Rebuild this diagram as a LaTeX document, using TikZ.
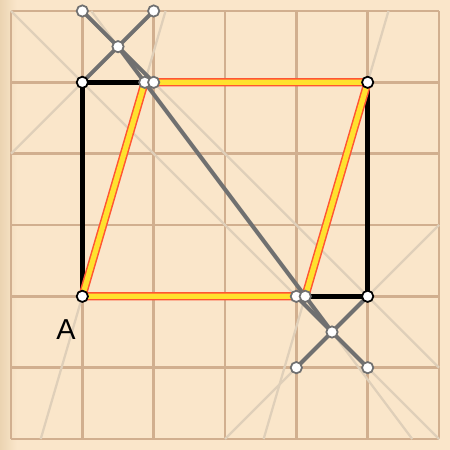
\documentclass[tikz,border=0pt]{standalone}
\usepackage{fontspec}
\setmainfont{Liberation Sans}
\definecolor{bgc}{HTML}{FAE6CA}
\definecolor{leftc}{HTML}{EBD4B2}
\definecolor{gridc}{HTML}{D1AF8F}
\definecolor{faintc}{HTML}{DFCFB9}
\definecolor{grayc}{HTML}{707070}
\definecolor{redc}{HTML}{FF5533}
\definecolor{yellowc}{HTML}{FFE12E}
\begin{document}
\begin{tikzpicture}[x=1cm,y=1cm,
  gridline/.style={draw=gridc, line width=1.05pt},
  faint/.style={draw=faintc, line width=0.9pt},
  blackline/.style={draw=black, line width=1.9pt, line join=miter},
  grayline/.style={draw=grayc, line width=1.6pt, line cap=round},
  band/.style={draw=redc, line width=0.6pt, double=yellowc, double distance=2.1pt, line join=round},
  pt/.style={circle, draw=grayc, fill=white, line width=0.7pt, inner sep=0pt, minimum size=4.5pt},
  bpt/.style={pt, draw=black},
  lab/.style={font=\fontsize{11.5}{13}\selectfont, text=black, inner sep=0pt}]
\useasboundingbox (-0.1542,-0.1542) rectangle (6.1542,6.1542);
\fill[bgc] (-0.1542,-0.1542) rectangle (6.1542,6.1542);
\shade[left color=leftc, right color=bgc] (-0.1542,-0.1542) rectangle (0.08,6.1542);
\draw[gridline] (0,0) grid (6,6);
% coordinates
\coordinate (A) at (1,2);
\coordinate (TL) at (1,5);
\coordinate (P1) at (1.875,5);
\coordinate (P2) at (2,5);
\coordinate (TR) at (5,5);
\coordinate (BR) at (5,2);
\coordinate (Q1) at (4,2);
\coordinate (Q2) at (4.125,2);
\coordinate (C1) at (1.5,5.5);
\coordinate (C2) at (4.5,1.5);
\coordinate (U1) at (1,6);
\coordinate (U2) at (2,6);
\coordinate (D1) at (4,1);
\coordinate (D2) at (5,1);
% faint construction line ends
\coordinate (f1a) at (0,6); \coordinate (f1b) at (6,0);
\coordinate (f2a) at (1,6); \coordinate (f2b) at (6,1);
\coordinate (f3a) at (0,4); \coordinate (f3b) at (2,6);
\coordinate (f4a) at (3,0); \coordinate (f4b) at (6,3);
\coordinate (f5a) at (1.125,6); \coordinate (f5b) at (5.625,0);
\coordinate (f6a) at (0.41667,0); \coordinate (f6b) at (2.16667,6);
\coordinate (f7a) at (3.54167,0); \coordinate (f7b) at (5.29167,6);
\draw[faint] (f1a) -- (f1b);
\draw[faint] (f2a) -- (f2b);
\draw[faint] (f3a) -- (f3b);
\draw[faint] (f4a) -- (f4b);
\draw[faint] (f5a) -- (f5b);
\draw[faint] (f6a) -- (f6b);
\draw[faint] (f7a) -- (f7b);
% black rectangle parts
\draw[blackline] (P1) -- (TL) -- (A);
\draw[blackline] (TR) -- (BR) -- (Q2);
% yellow parallelogram
\draw[band] (A) -- (P1) -- (P2) -- (TR) -- (Q2) -- (Q1) -- cycle;
% gray lines
\draw[grayline] (U1) -- (P2);
\draw[grayline] (TL) -- (U2);
\draw[grayline] (C1) -- (C2);
\draw[grayline] (Q1) -- (D2);
\draw[grayline] (BR) -- (D1);
% points
\node[pt] (nU1) at (U1) {};
\node[pt] (nU2) at (U2) {};
\node[pt] (nC1) at (C1) {};
\node[pt] (nP1) at (P1) {};
\node[pt] (nP2) at (P2) {};
\node[pt] (nQ1) at (Q1) {};
\node[pt] (nQ2) at (Q2) {};
\node[pt] (nC2) at (C2) {};
\node[pt] (nD1) at (D1) {};
\node[pt] (nD2) at (D2) {};
\node[bpt] (nTL) at (TL) {};
\node[bpt] (nTR) at (TR) {};
\node[bpt] (nA) at (A) {};
\node[bpt] (nBR) at (BR) {};
\node[lab] (labA) at (0.77,1.54) {A};
\end{tikzpicture}
\end{document}
